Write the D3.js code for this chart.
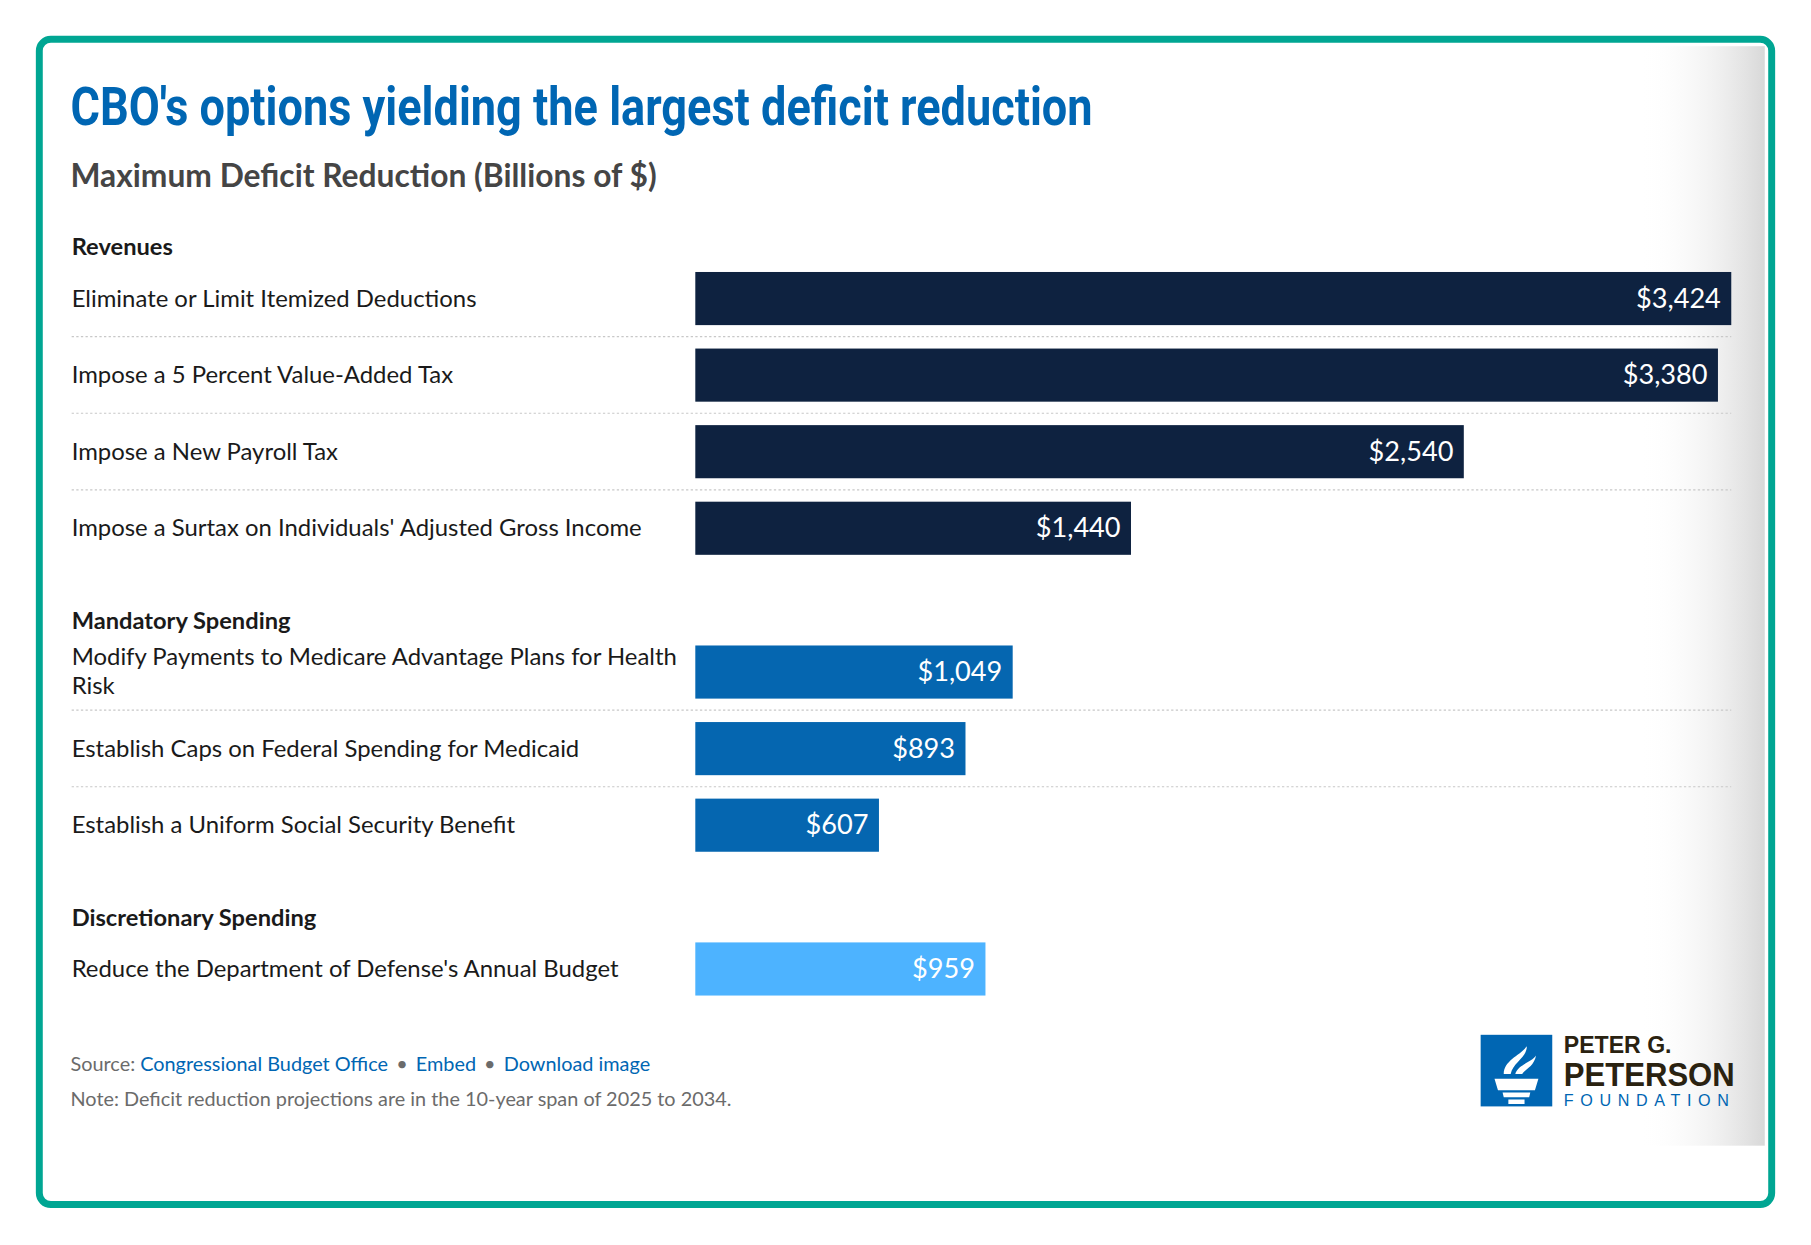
<!DOCTYPE html>
<html lang="en">
<head>
<meta charset="UTF-8">
<title>CBO's options yielding the largest deficit reduction</title>
<script src="https://d3js.org/d3.v7.min.js"></script>
<style>
  body { margin: 0; background: #fff; }
  svg { display: block; }
  text { font-family: Lato, "Open Sans", sans-serif; }
</style>
</head>
<body>
<svg></svg>
<script>
// chart data
const groups = ["Revenues", "Mandatory Spending", "Discretionary Spending"];
const labels = [
  "Eliminate or Limit Itemized Deductions",
  "Impose a 5 Percent Value-Added Tax",
  "Impose a New Payroll Tax",
  "Impose a Surtax on Individuals' Adjusted Gross Income",
  "Modify Payments to Medicare Advantage Plans for Health Risk",
  "Establish Caps on Federal Spending for Medicaid",
  "Establish a Uniform Social Security Benefit",
  "Reduce the Department of Defense's Annual Budget"
];
const values = [3424, 3380, 2540, 1440, 1049, 893, 607, 959];
const itemGroup = [0, 0, 0, 0, 1, 1, 1, 2];
const groupColors = ["#0e2240", "#0566b0", "#4db3ff"];

const W = 1568, H = 1078;
const svg = d3.select("svg")
  .attr("width", 1811).attr("height", 1245)
  .attr("viewBox", `0 0 ${W} ${H}`);

// card frame
svg.append("rect").attr("x", 34).attr("y", 34).attr("width", 1500).attr("height", 1009)
  .attr("rx", 10).attr("fill", "#fff").attr("stroke", "#00a693").attr("stroke-width", 6);
const grad = svg.append("defs").append("linearGradient").attr("id", "shade");
grad.append("stop").attr("offset", "0%").attr("stop-color", "#fff").attr("stop-opacity", 0);
grad.append("stop").attr("offset", "100%").attr("stop-color", "#d8d8d8");
svg.append("rect").attr("x", 1420).attr("y", 40).attr("width", 108).attr("height", 952).attr("fill", "url(#shade)");

svg.append("text").attr("x", 61).attr("y", 108)
  .attr("font-size", 46).attr("font-weight", 700).attr("fill", "#0066b3")
  .attr("textLength", 885).attr("lengthAdjust", "spacingAndGlyphs")
  .style("font-family", "'Liberation Sans Narrow', Roboto, sans-serif")
  .text("CBO's options yielding the largest deficit reduction");
svg.append("text").attr("x", 61).attr("y", 162)
  .attr("font-size", 27.5).attr("font-weight", 700).attr("fill", "#454545")
  .text("Maximum Deficit Reduction (Billions of $)");

// layout rows
const rows = [];
let cursor = 221;
groups.forEach((g, gi) => {
  const headerY = cursor;
  let top = headerY + 14.5;
  const idx = itemGroup.map((v, i) => v === gi ? i : -1).filter(i => i >= 0);
  idx.forEach((i, k) => { rows.push({ i, top, last: k === idx.length - 1, header: k === 0 ? headerY : null, g: gi }); top += 66.3; });
  cursor = top - 66.3 + 46 + 64;
});

const x = d3.scaleLinear().domain([0, 3424]).range([602, 1499]);
const barH = 46;

groups.forEach((g, gi) => {
  const r = rows.find(d => d.g === gi && d.header !== null);
  svg.append("text").attr("x", 62).attr("y", r.header)
    .attr("font-size", 20.5).attr("font-weight", 700).attr("fill", "#1a1a1a").text(g);
});

rows.forEach(r => {
  const cy = r.top + barH / 2;
  const words = labels[r.i];
  const lt = svg.append("text").attr("x", 62).attr("font-size", 20.7).attr("fill", "#1a1a1a");
  if (words.length > 55) {
    const cut = words.lastIndexOf(" ");
    lt.append("tspan").attr("x", 62).attr("y", cy - 6).text(words.slice(0, cut));
    lt.append("tspan").attr("x", 62).attr("y", cy + 19).text(words.slice(cut + 1));
  } else {
    lt.attr("y", cy + 7).text(words);
  }
  svg.append("rect").attr("x", x(0)).attr("y", r.top)
    .attr("width", x(values[r.i]) - x(0)).attr("height", barH)
    .attr("fill", groupColors[r.g]);
  svg.append("text").attr("x", x(values[r.i]) - 9).attr("y", cy + 8)
    .attr("text-anchor", "end").attr("font-size", 23.5).attr("fill", "#fff")
    .text("$" + d3.format(",")(values[r.i]));
  if (!r.last) {
    svg.append("line").attr("x1", 62).attr("x2", 1499)
      .attr("y1", r.top + barH + 10).attr("y2", r.top + barH + 10)
      .attr("stroke", "#c8c8c8").attr("stroke-dasharray", "2,2");
  }
});

// footer
const src = svg.append("text").attr("x", 61).attr("y", 927).attr("font-size", 17.2).attr("fill", "#6b6b6b");
src.append("tspan").text("Source: ");
src.append("tspan").attr("fill", "#0066b3").text("Congressional Budget Office");
src.append("tspan").attr("dx", 7).text("•");
src.append("tspan").attr("dx", 7).attr("fill", "#0066b3").text("Embed");
src.append("tspan").attr("dx", 7).text("•");
src.append("tspan").attr("dx", 7).attr("fill", "#0066b3").text("Download image");
svg.append("text").attr("x", 61).attr("y", 958).attr("font-size", 17.2).attr("fill", "#6b6b6b")
  .text("Note: Deficit reduction projections are in the 10-year span of 2025 to 2034.");

// logo
const logo = svg.append("g").attr("transform", "translate(1282,896)");
logo.append("rect").attr("width", 62).attr("height", 62).attr("fill", "#0066b3");
logo.append("path").attr("fill", "#fff").attr("d", "M12 38 L50 38 L47 48 L15 48 Z M19 50 L43 50 L42 54 L20 54 Z M24 56 L38 56 L38 60 L24 60 Z");
logo.append("path").attr("fill", "#fff").attr("d", "M20 34 C20 22 34 18 40 10 C40 20 28 24 26 34 Z M30 34 C32 26 44 24 48 18 C46 28 38 30 36 34 Z");
logo.append("text").attr("x", 72).attr("y", 16).attr("font-size", 20).attr("font-weight", 700)
  .attr("fill", "#2a2210").style("font-family", "'Liberation Sans', sans-serif").text("PETER G.");
logo.append("text").attr("x", 72).attr("y", 44).attr("font-size", 29).attr("font-weight", 700)
  .attr("fill", "#2a2210").attr("textLength", 148).attr("lengthAdjust", "spacingAndGlyphs")
  .style("font-family", "'Liberation Sans', sans-serif").text("PETERSON");
logo.append("text").attr("x", 72).attr("y", 62).attr("font-size", 14)
  .attr("fill", "#0066b3").attr("textLength", 147).attr("letter-spacing", 4)
  .style("font-family", "'Liberation Sans', sans-serif").text("FOUNDATION");
</script>
</body>
</html>
